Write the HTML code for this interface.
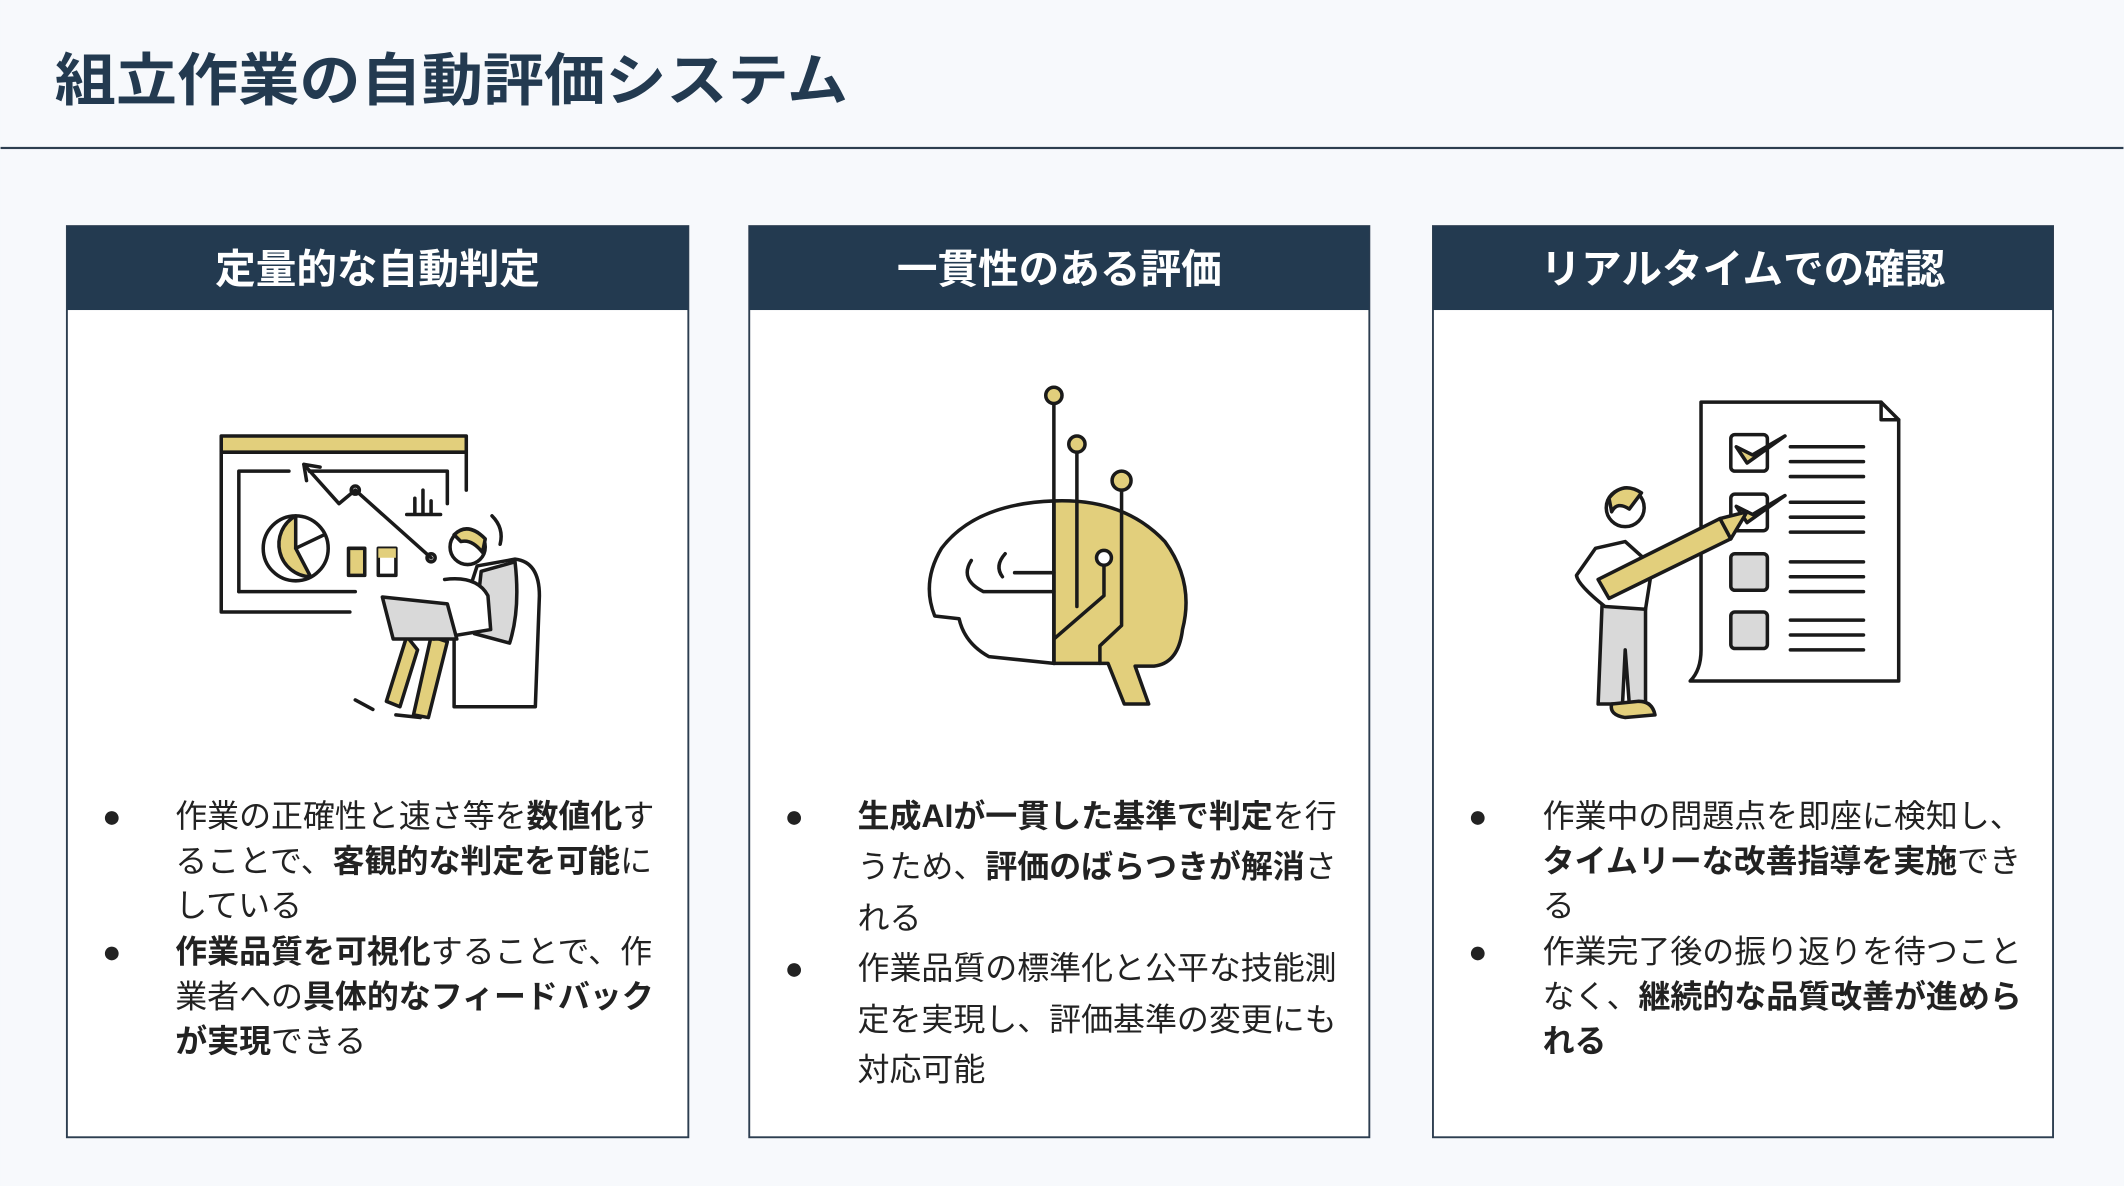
<!DOCTYPE html>
<html><head><meta charset="utf-8"><style>
html,body{margin:0;padding:0;background:#f7f9fc;}
svg{display:block}
text{font-family:"Liberation Sans","Noto Sans CJK JP",sans-serif;}
</style></head><body>
<svg width="2124" height="1186" viewBox="0 0 1568 876" xmlns="http://www.w3.org/2000/svg">
<rect width="1568" height="876" fill="#f7f9fc"/>
<text x="40" y="74" font-size="42" font-weight="700" fill="#233a50" textLength="586" lengthAdjust="spacingAndGlyphs">組立作業の自動評価システム</text>
<rect x="0" y="108.5" width="1568" height="1.6" fill="#2d3e50"/>

<g stroke="#2d3e50" stroke-width="1.4" fill="#fff">
<rect x="49" y="167" width="459" height="673"/>
<rect x="553" y="167" width="458" height="673"/>
<rect x="1058" y="167" width="458" height="673"/>
</g>
<g fill="#233a50">
<rect x="49" y="167" width="459" height="62"/>
<rect x="553" y="167" width="458" height="62"/>
<rect x="1058" y="167" width="458" height="62"/>
</g>
<g font-size="30" font-weight="700" fill="#fff" text-anchor="middle">
<text x="278.5" y="209">定量的な自動判定</text>
<text x="782" y="209">一貫性のある評価</text>
<text x="1287" y="209">リアルタイムでの確認</text>
</g>

<g font-size="23.6" fill="#222">
<text x="75" y="611">●</text><text x="75" y="711">●</text>
<text x="129" y="611">作業の正確性と速さ等を<tspan font-weight="700">数値化</tspan>す</text>
<text x="129" y="644">ることで、<tspan font-weight="700">客観的な判定を可能</tspan>に</text>
<text x="129" y="677">している</text>
<text x="129" y="711"><tspan font-weight="700">作業品質を可視化</tspan>することで、作</text>
<text x="129" y="744">業者への<tspan font-weight="700">具体的なフィードバック</tspan></text>
<text x="129" y="777"><tspan font-weight="700">が実現</tspan>できる</text>

<text x="579" y="611">●</text><text x="579" y="723">●</text>
<text x="633" y="611"><tspan font-weight="700">生成AIが一貫した基準で判定</tspan>を行</text>
<text x="633" y="648">うため、<tspan font-weight="700">評価のばらつきが解消</tspan>さ</text>
<text x="633" y="686">れる</text>
<text x="633" y="723">作業品質の標準化と公平な技能測</text>
<text x="633" y="761">定を実現し、評価基準の変更にも</text>
<text x="633" y="798">対応可能</text>

<text x="1084" y="611">●</text><text x="1084" y="711">●</text>
<text x="1139" y="611">作業中の問題点を即座に検知し、</text>
<text x="1139" y="644"><tspan font-weight="700">タイムリーな改善指導を実施</tspan>でき</text>
<text x="1139" y="677">る</text>
<text x="1139" y="711">作業完了後の振り返りを待つこと</text>
<text x="1139" y="744">なく、<tspan font-weight="700">継続的な品質改善が進めら</tspan></text>
<text x="1139" y="777"><tspan font-weight="700">れる</tspan></text>
</g>

<g stroke="#1a1a1a" stroke-width="2.6" fill="none" stroke-linecap="round" stroke-linejoin="round">
<rect x="163" y="322" width="181" height="12" fill="#e2cf7c"/>
<path d="M163 334 V452 H258 M344 334 V362"/>
<path d="M176 437 V348 H213 M228 348 H330 V372"/>
<path d="M176 437 H262"/>
<circle cx="218" cy="405" r="24" fill="#fff"/>
<path d="M218 405 V381 A24 24 0 0 0 229 426 Z" fill="#e2cf7c"/>
<path d="M218 405 L239 395"/>
<rect x="257" y="405" width="12" height="20" fill="#e2cf7c"/>
<rect x="279" y="405" width="13" height="20"/>
<path d="M279 405 H292 V412 H279Z" fill="#e2cf7c" stroke="none"/>
<path d="M318 412 L262 362 L250 372 L224 343 M224 343 L236 345 M224 343 L226 355"/>
<circle cx="262" cy="362" r="3"/><circle cx="318" cy="412" r="3"/>
<path d="M300 380 H325 M306 380 V368 M312 380 V362 M318 380 V370"/>
<path d="M363 381 Q372 390 369 402"/>
<path d="M352 418 L380 413 Q398 415 398 440 L395 522 L335 522 L335 470 Z" fill="#fff"/>
<path d="M355 422 L380 415 Q384 450 376 475 L350 468Z" fill="#d9d9d9"/>
<path d="M300 470 L285 518 L295 522 L308 480 Z" fill="#e2cf7c"/>
<path d="M318 470 L305 528 L316 530 L330 474 Z" fill="#e2cf7c"/>
<path d="M262 517 L275 524 M292 528 L310 530"/>
<path d="M328 428 Q352 425 360 440 L362 465 L320 472" fill="#fff"/>
<path d="M282 441 L330 446 L337 472 L290 472 Z" fill="#d9d9d9"/>
<circle cx="345" cy="404" r="13" fill="#fff"/>
<path d="M335 395 Q345 385 358 398 L356 408 Q348 398 340 400Z" fill="#e2cf7c"/>
</g>

<g stroke="#1a1a1a" stroke-width="2.6" stroke-linecap="round" stroke-linejoin="round">
<path d="M778 370 Q830 368 860 400 Q882 430 873 465 Q870 490 852 492 L838 492 L848 520 L830 520 L818 490 L778 490 Z" fill="#e2cf7c"/>
<path d="M778 370 Q720 372 695 405 Q680 430 690 455 L708 457 Q712 475 730 485 L778 490 Z" fill="#fff"/>
<path d="M778 298 V490 M795 334 V448 M828 361 V462 L812 477 V490 M815 418 V440 L778 472" fill="none"/>
<path d="M742 409 Q734 418 740 426" fill="none"/><path d="M717 414 Q708 428 726 437 L778 437 M749 423 H778" fill="none"/>
<circle cx="778" cy="292" r="6" fill="#e2cf7c"/>
<circle cx="795" cy="328" r="6" fill="#e2cf7c"/>
<circle cx="828" cy="355" r="7" fill="#e2cf7c"/>
<circle cx="815" cy="412" r="5.5" fill="#fff"/>
</g>

<g stroke="#1a1a1a" stroke-width="2.6" stroke-linecap="round" stroke-linejoin="round">
<path d="M1256 297 H1389 L1402 310 V503 H1248 Q1256 495 1256 480 Z" fill="#fff"/>
<path d="M1389 297 V310 H1402" fill="none"/>
<rect x="1278" y="321" width="27" height="27" rx="3" fill="#fff"/>
<rect x="1278" y="365" width="27" height="27" rx="3" fill="#fff"/>
<rect x="1278" y="409" width="27" height="27" rx="3" fill="#d9d9d9"/>
<rect x="1278" y="452" width="27" height="27" rx="3" fill="#d9d9d9"/>
<path d="M1282 330 L1290 342 L1318 322 L1294 336Z" fill="#e2cf7c"/>
<path d="M1282 374 L1290 386 L1318 366 L1294 380Z" fill="#e2cf7c"/>
<g fill="none"><path d="M1322 330H1376M1322 341H1376M1322 352H1376M1322 371H1376M1322 382H1376M1322 393H1376M1322 415H1376M1322 426H1376M1322 437H1376M1322 458H1376M1322 469H1376M1322 480H1376"/></g>
<path d="M1183 444 L1180 520 L1198 520 L1200 480 L1203 520 L1215 520 L1215 444Z" fill="#d9d9d9"/>
<path d="M1190 520 Q1188 528 1200 530 L1222 528 Q1220 518 1210 518Z" fill="#e2cf7c"/>
<path d="M1178 405 L1200 400 L1220 418 L1215 450 L1185 448 Q1165 432 1164 425Z" fill="#fff"/>
<circle cx="1200" cy="375" r="14" fill="#fff"/>
<path d="M1188 368 Q1198 355 1212 364 L1203 376 Q1194 370 1190 378Z" fill="#e2cf7c"/>
<path d="M1180 428 L1270 383 L1278 398 L1188 442Z" fill="#e2cf7c"/>
<path d="M1270 383 L1290 378 L1278 398Z" fill="#e2cf7c"/>
</g>
</svg>
</body></html>
